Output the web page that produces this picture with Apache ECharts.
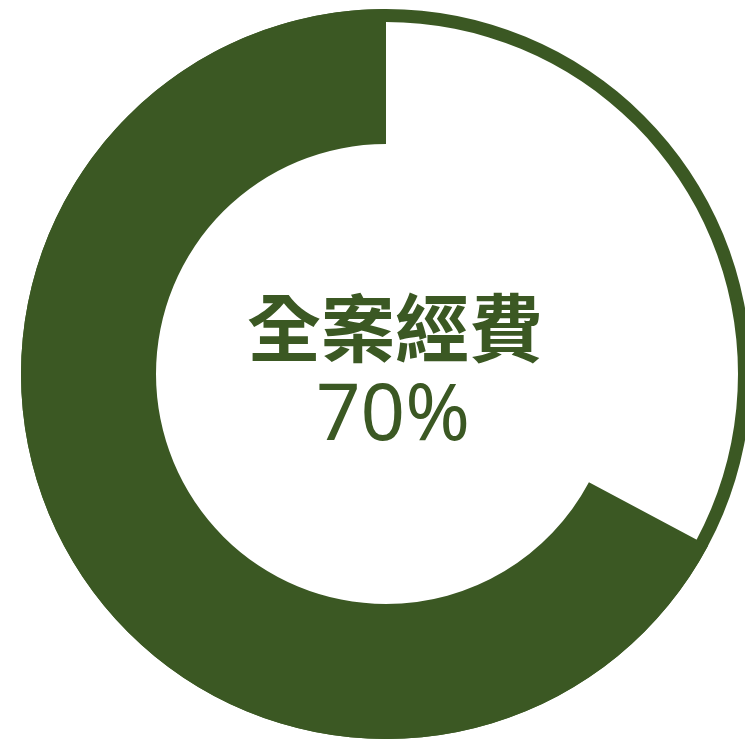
<!DOCTYPE html>
<html>
<head>
<meta charset="utf-8">
<script src="https://cdn.jsdelivr.net/npm/echarts@6/dist/echarts.min.js"></script>
<style>html,body{margin:0;padding:0;background:#fff;}#c{width:745px;height:740px;}</style>
</head>
<body>
<div id="c"></div>
<script>
const categories = ['其他', '全案經費'];
const values = [32.8, 67.2];
const titleText = '全案經費';
const percentText = '70%';
const green = '#3b5823';

const chart = echarts.init(document.getElementById('c'), null, {renderer: 'canvas'});
chart.setOption({
  animation: false,
  backgroundColor: '#fff',
  series: [
    {
      type: 'pie',
      silent: true,
      center: [386, 374],
      radius: [352, 365],
      label: {show: false},
      labelLine: {show: false},
      itemStyle: {color: green, borderWidth: 0},
      data: [{name: 'ring', value: 1}],
      z: 1
    },
    {
      type: 'pie',
      silent: true,
      center: [386, 374],
      radius: [230, 365],
      startAngle: 90,
      clockwise: true,
      label: {show: false},
      labelLine: {show: false},
      data: [
        {name: categories[0], value: values[0], itemStyle: {color: 'rgba(0,0,0,0)', borderWidth: 0}},
        {name: categories[1], value: values[1], itemStyle: {color: green, borderWidth: 0}}
      ],
      z: 2
    }
  ],
  graphic: [
    {
      type: 'text',
      x: 395, y: 328,
      style: {
        text: titleText, fill: green, align: 'center', verticalAlign: 'middle',
        font: 'bold 74px "Noto Sans CJK TC", "Noto Sans CJK SC", sans-serif'
      }
    },
    {
      type: 'text',
      x: 393, y: 418,
      style: {
        text: percentText, fill: green, align: 'center', verticalAlign: 'middle',
        font: '78px "Noto Sans", sans-serif'
      }
    }
  ]
});
</script>
</body>
</html>
